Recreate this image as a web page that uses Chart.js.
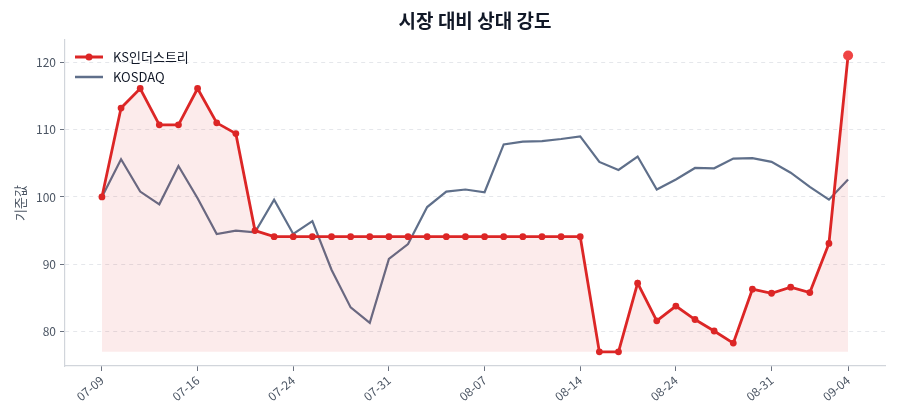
<!DOCTYPE html>
<html><head><meta charset="utf-8">
<script src="https://cdn.jsdelivr.net/npm/chart.js@4"></script>
<style>html,body{margin:0;padding:0;background:#fff}#wrap{width:900px;height:420px}</style>
</head><body><div id="wrap"><canvas id="c"></canvas></div>
<script>
const dates = ["07-09","07-10","07-11","07-14","07-15","07-16","07-17","07-18","07-21","07-23",
"07-24","07-25","07-28","07-29","07-30","07-31","08-01","08-04","08-05","08-06",
"08-07","08-08","08-11","08-12","08-13","08-14","08-18","08-19","08-20","08-21",
"08-24","08-25","08-26","08-27","08-28","08-31","09-01","09-02","09-03","09-04"];
const ksValues = [100,113.2,116.1,110.7,110.7,116.1,111.0,109.4,95.0,94.1,
94.1,94.1,94.1,94.1,94.1,94.1,94.1,94.1,94.1,94.1,
94.1,94.1,94.1,94.1,94.1,94.1,77.0,77.0,87.2,81.6,
83.8,81.8,80.1,78.3,86.3,85.7,86.6,85.8,93.1,121.0];
const kosdaqValues = [100,105.6,100.8,98.9,104.6,99.8,94.5,95.0,94.75,99.6,
94.5,96.4,89.2,83.6,81.3,90.8,93.0,98.5,100.8,101.1,
100.7,107.8,108.2,108.3,108.6,109.0,105.2,104.0,106.0,101.1,
102.6,104.3,104.25,105.7,105.75,105.2,103.6,101.5,99.6,102.6];
const tickIdx = [0,5,10,15,20,25,30,35,39];
const yTicks = [80,90,100,110,120];
const titleText = '시장 대비 상대 강도';

const RED = '#dc2626', RED_LAST = '#ef4444', GRAY = '#5f6f8a';
const FONT = '"Noto Sans CJK KR","Noto Sans",sans-serif';
const last = ksValues.length - 1;
const fillBase = Math.min(...ksValues);

const overlayPlugin = {
  id: 'overlay',
  afterDraw(chart) {
    const ctx = chart.ctx, a = chart.chartArea;
    ctx.save();
    // title centred over plot area
    ctx.fillStyle = '#111827'; ctx.font = 'bold 19px ' + FONT;
    ctx.textAlign = 'center'; ctx.textBaseline = 'middle';
    ctx.fillText(titleText, (a.left + a.right) / 2, 21);
    // legend
    const x0 = a.left + 10, items = [
      {label: 'KS인더스트리', color: RED, w: 3, dot: true},
      {label: 'KOSDAQ', color: GRAY, w: 2.5, dot: false}
    ];
    items.forEach((it, i) => {
      const y = a.top + 17 + i * 20;
      ctx.strokeStyle = it.color; ctx.lineWidth = it.w; ctx.lineCap = 'butt';
      ctx.beginPath(); ctx.moveTo(x0, y); ctx.lineTo(x0 + 28, y); ctx.stroke();
      if (it.dot) { ctx.fillStyle = it.color; ctx.beginPath(); ctx.arc(x0 + 14, y, 3.5, 0, Math.PI*2); ctx.fill(); }
      ctx.fillStyle = '#111827'; ctx.font = '13px ' + FONT; ctx.textBaseline = 'middle'; ctx.textAlign = 'left';
      ctx.fillText(it.label, x0 + 38, y);
    });
    ctx.restore();
  }
};

new Chart(document.getElementById('c'), {
  type: 'line',
  data: {
    datasets: [
      {
        label: 'KS인더스트리',
        data: ksValues.map((v, i) => ({x: i, y: v})),
        borderColor: RED, borderWidth: 2.8,
        backgroundColor: 'rgba(220,38,38,0.09)',
        fill: {value: fillBase},
        pointRadius: ksValues.map((v, i) => i === last ? 5 : 3.4),
        pointBackgroundColor: ksValues.map((v, i) => i === last ? RED_LAST : RED),
        pointBorderColor: ksValues.map((v, i) => i === last ? RED_LAST : RED),
        pointBorderWidth: 0,
        tension: 0, order: 1
      },
      {
        label: 'KOSDAQ',
        data: kosdaqValues.map((v, i) => ({x: i, y: v})),
        borderColor: GRAY, borderWidth: 2.2,
        pointRadius: 0, fill: false, tension: 0, order: 2
      }
    ]
  },
  options: {
    responsive: true, maintainAspectRatio: false, animation: false,
    layout: {padding: {left: 0, right: 15, top: 40, bottom: 0}},
    plugins: {
      legend: {display: false},
      tooltip: {enabled: false},
      title: {display: false}
    },
    scales: {
      x: {
        type: 'linear', min: -1.93, max: 40.93,
        afterBuildTicks: s => { s.ticks = tickIdx.map(v => ({value: v})); },
        afterFit: s => { s.height = 54; },
        ticks: {
          autoSkip: false, minRotation: 40, maxRotation: 40, color: '#4b5563',
          font: {family: FONT, size: 12}, padding: 2,
          callback: v => dates[v] ?? ''
        },
        grid: {display: true, drawOnChartArea: false, drawTicks: true, tickLength: 5, tickColor: '#6b7280'},
        border: {color: '#d1d5db', width: 1.2}
      },
      y: {
        min: 74.9, max: 123.3,
        afterBuildTicks: s => { s.ticks = yTicks.map(v => ({value: v})); },
        afterFit: s => { s.width = 65; },
        ticks: {color: '#4b5563', font: {family: FONT, size: 12}, padding: 4},
        title: {display: true, text: '기준값', color: '#4b5563', font: {family: FONT, size: 13}, padding: {top: 12, bottom: 0}},
        grid: {color: '#e5e7eb', lineWidth: 1, tickLength: 5, tickColor: '#6b7280', tickBorderDash: [], borderDash: [4,4]},
        border: {color: '#d1d5db', width: 1.2, dash: [4,4]}
      }
    }
  },
  plugins: [overlayPlugin]
});
</script></body></html>
